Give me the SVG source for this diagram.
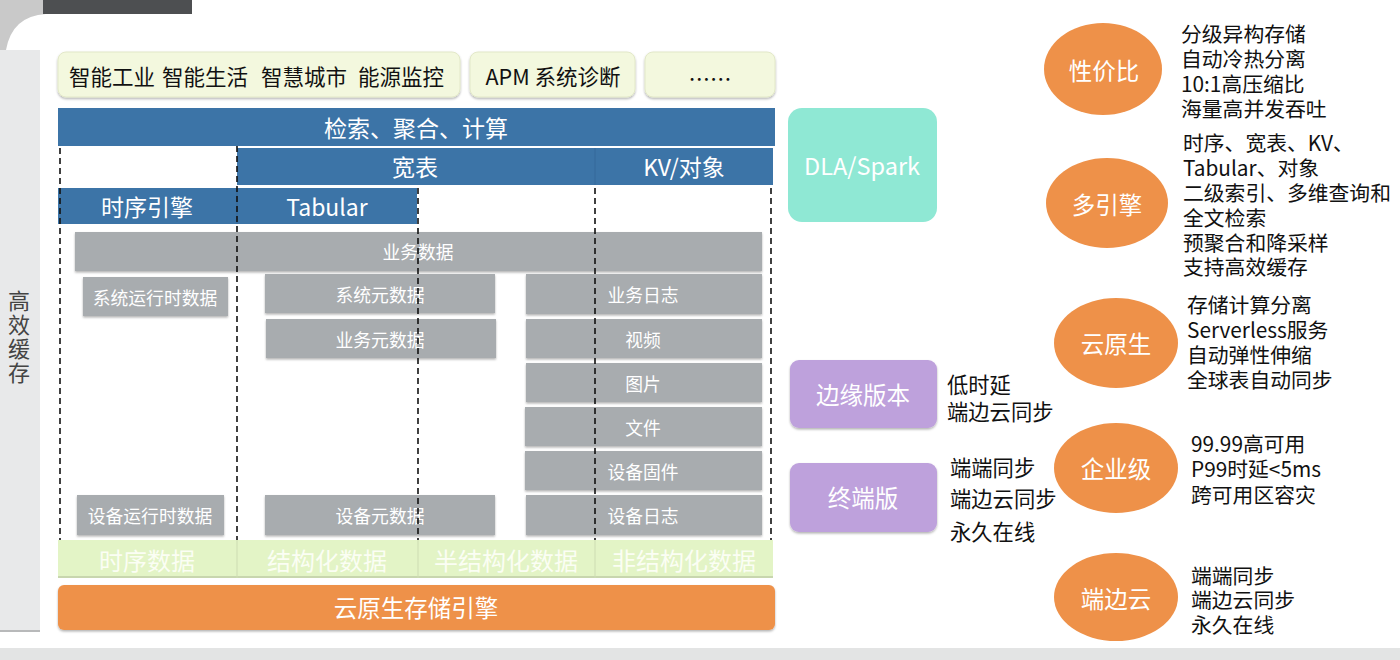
<svg xmlns="http://www.w3.org/2000/svg" width="1400" height="660" viewBox="0 0 1400 660">
<defs>
<filter id="sh" x="-5%" y="-10%" width="110%" height="130%"><feDropShadow dx="0" dy="1.5" stdDeviation="1" flood-color="#000" flood-opacity="0.3"/></filter>
<style>
text{font-family:"Noto Sans CJK SC","Noto Sans",sans-serif;dominant-baseline:central;}
.c{text-anchor:middle;}
.blue{fill:#3c74a7;}
.bw{fill:#fff;font-size:23px;}
.gray{fill:#a8acaf;filter:url(#sh);}
.gt{fill:#fff;font-size:17.8px;text-anchor:middle;}
.top{fill:#f3f8de;stroke:#e2e8c8;stroke-width:1;filter:url(#sh);}
.tt{fill:#111;font-size:21.5px;}
.dash{stroke:#111;stroke-width:1.6;stroke-dasharray:6 4;fill:none;}
.gr{fill:#e3f4c6;}
.grt{fill:#fbfef4;font-size:24px;text-anchor:middle;}
.org{fill:#ee9149;}
.ot{fill:#fff;font-size:23.5px;text-anchor:middle;}
.pur{fill:#bea1dc;filter:url(#sh);}
.desc{fill:#111;font-size:20.8px;}
.desc2{fill:#111;font-size:21.3px;}
</style>
</defs>
<rect width="1400" height="660" fill="#fff"/>
<!-- decoration -->
<path d="M0 0 H46 V14 Q12 16 6 50 H0 Z" fill="#c9c9c9"/>
<rect x="43" y="0" width="149" height="14" fill="#4d4f51"/>
<rect x="0" y="50" width="40" height="582" fill="#e8e9ea"/>
<rect x="0" y="630" width="40" height="2" fill="#b8b9ba"/>
<rect x="0" y="648" width="1400" height="12" fill="#e3e4e4"/>
<g id="cache">
<text x="19" y="290" font-size="22" fill="#444" writing-mode="tb" style="dominant-baseline:auto;letter-spacing:2px">高效缓存</text>
</g>
<!-- top apps -->
<g id="apps1"><rect class="top" x="58" y="52" width="402" height="45" rx="8"/>
<text class="tt" x="69" y="75">智能工业</text><text class="tt" x="162" y="75">智能生活</text><text class="tt" x="261" y="75">智慧城市</text><text class="tt" x="358" y="75">能源监控</text></g>
<g id="apps2"><rect class="top" x="470" y="52" width="165" height="45" rx="8"/><text class="tt c" x="553" y="75">APM 系统诊断</text></g>
<g id="apps3"><rect class="top" x="645" y="52" width="130" height="45" rx="8"/><text class="tt c" x="710" y="77">……</text></g>
<!-- blue layers -->
<g id="search"><rect class="blue" x="58" y="108" width="717" height="38"/><text class="bw c" x="416" y="127">检索、聚合、计算</text></g>
<g id="wide"><rect class="blue" x="237" y="148" width="358" height="37"/><text class="bw c" x="415" y="166">宽表</text></g>
<g id="kv"><rect class="blue" x="595" y="148" width="178" height="37"/><line x1="595" y1="148" x2="595" y2="185" stroke="#34689a"/><text class="bw c" x="684" y="166">KV/对象</text></g>
<g id="ts"><rect class="blue" x="58" y="188" width="179" height="36"/><text class="bw c" x="147" y="206">时序引擎</text></g>
<g id="tab"><rect class="blue" x="237" y="188" width="180" height="36"/><line x1="237" y1="188" x2="237" y2="224" stroke="#34689a"/><text class="bw c" x="327" y="206">Tabular</text></g>
<!-- gray data -->
<g id="bizdata"><rect class="gray" x="75" y="232" width="687" height="39"/><text class="gt" x="418" y="251">业务数据</text></g>
<g id="sysrt"><rect class="gray" x="83" y="277" width="145" height="39"/><text class="gt" x="155" y="297">系统运行时数据</text></g>
<g id="sysmeta"><rect class="gray" x="265" y="274" width="230" height="39"/><text class="gt" x="380" y="294">系统元数据</text></g>
<g id="bizmeta"><rect class="gray" x="266" y="319" width="230" height="39"/><text class="gt" x="380" y="339">业务元数据</text></g>
<g id="bizlog"><rect class="gray" x="526" y="274" width="236" height="40"/><text class="gt" x="643" y="294">业务日志</text></g>
<g id="video"><rect class="gray" x="526" y="319" width="236" height="39"/><text class="gt" x="643" y="339">视频</text></g>
<g id="pic"><rect class="gray" x="526" y="363" width="236" height="39"/><text class="gt" x="643" y="383">图片</text></g>
<g id="file"><rect class="gray" x="525" y="407" width="237" height="39"/><text class="gt" x="643" y="427">文件</text></g>
<g id="fw"><rect class="gray" x="525" y="451" width="237" height="39"/><text class="gt" x="643" y="471">设备固件</text></g>
<g id="devlog"><rect class="gray" x="526" y="495" width="236" height="40"/><text class="gt" x="643" y="515">设备日志</text></g>
<g id="devrt"><rect class="gray" x="77" y="495" width="147" height="40"/><text class="gt" x="150" y="515">设备运行时数据</text></g>
<g id="devmeta"><rect class="gray" x="265" y="495" width="230" height="40"/><text class="gt" x="380" y="515">设备元数据</text></g>
<!-- dashed guides -->
<g id="connectors">
<line class="dash" x1="60" y1="148" x2="60" y2="540"/>
<line class="dash" x1="237" y1="146" x2="237" y2="540"/>
<line class="dash" x1="418" y1="188" x2="418" y2="540"/>
<line class="dash" x1="595" y1="188" x2="595" y2="540"/>
<line class="dash" x1="771" y1="188" x2="771" y2="540"/>
</g>
<!-- green data types -->
<g id="types">
<rect class="gr" x="58" y="540" width="715" height="38"/>
<rect x="58" y="576" width="715" height="2" fill="#c8d6ae"/>
<line x1="237" y1="540" x2="237" y2="578" stroke="#cddcb2"/>
<line x1="418" y1="540" x2="418" y2="578" stroke="#cddcb2"/>
<line x1="595" y1="540" x2="595" y2="578" stroke="#cddcb2"/>
<text class="grt" x="147" y="559">时序数据</text>
<text class="grt" x="327" y="559">结构化数据</text>
<text class="grt" x="506" y="559">半结构化数据</text>
<text class="grt" x="684" y="559">非结构化数据</text>
</g>
<g id="engine"><rect class="org" x="58" y="585" width="717" height="45" rx="6" filter="url(#sh)"/><text class="ot" x="416" y="607">云原生存储引擎</text></g>
<!-- right of stack -->
<g id="dla"><rect x="788" y="108" width="149" height="114" rx="14" fill="#8fe8d4"/><text class="ot" x="862" y="165" font-size="26">DLA/Spark</text></g>
<g id="edge"><rect class="pur" x="790" y="360" width="147" height="68" rx="9"/><text class="ot" x="863" y="394" font-size="24.5">边缘版本</text>
<text class="desc2" x="947"><tspan x="947" y="383">低时延</tspan><tspan x="947" y="410">端边云同步</tspan></text></g>
<g id="term"><rect class="pur" x="790" y="463" width="147" height="69" rx="9"/><text class="ot" x="863" y="497" font-size="24.5">终端版</text>
<text class="desc2" x="950"><tspan x="950" y="466">端端同步</tspan><tspan x="950" y="497">端边云同步</tspan><tspan x="950" y="530">永久在线</tspan></text></g>
<!-- features -->
<g id="f1"><ellipse class="org" cx="1103" cy="69" rx="59" ry="46"/><text class="ot" x="1104" y="70">性价比</text>
<text class="desc" x="1181"><tspan x="1181" y="33">分级异构存储</tspan><tspan x="1181" y="58">自动冷热分离</tspan><tspan x="1181" y="83">10:1高压缩比</tspan><tspan x="1181" y="108">海量高并发吞吐</tspan></text></g>
<g id="f2"><ellipse class="org" cx="1107" cy="203" rx="61" ry="45"/><text class="ot" x="1107" y="204">多引擎</text>
<text class="desc" x="1183"><tspan x="1183" y="142">时序、宽表、KV、</tspan><tspan x="1183" y="167">Tabular、对象</tspan><tspan x="1183" y="192">二级索引、多维查询和</tspan><tspan x="1183" y="217">全文检索</tspan><tspan x="1183" y="242">预聚合和降采样</tspan><tspan x="1183" y="266">支持高效缓存</tspan></text></g>
<g id="f3"><ellipse class="org" cx="1116" cy="343" rx="62" ry="45"/><text class="ot" x="1116" y="343">云原生</text>
<text class="desc" x="1187"><tspan x="1187" y="304">存储计算分离</tspan><tspan x="1187" y="329">Serverless服务</tspan><tspan x="1187" y="354">自动弹性伸缩</tspan><tspan x="1187" y="379">全球表自动同步</tspan></text></g>
<g id="f4"><ellipse class="org" cx="1116" cy="468" rx="62" ry="45"/><text class="ot" x="1116" y="468">企业级</text>
<text class="desc" x="1191"><tspan x="1191" y="443">99.99高可用</tspan><tspan x="1191" y="468">P99时延&lt;5ms</tspan><tspan x="1191" y="494">跨可用区容灾</tspan></text></g>
<g id="f5"><ellipse class="org" cx="1116" cy="597" rx="62" ry="44"/><text class="ot" x="1116" y="598">端边云</text>
<text class="desc" x="1191"><tspan x="1191" y="575">端端同步</tspan><tspan x="1191" y="599">端边云同步</tspan><tspan x="1191" y="624">永久在线</tspan></text></g>
</svg>
